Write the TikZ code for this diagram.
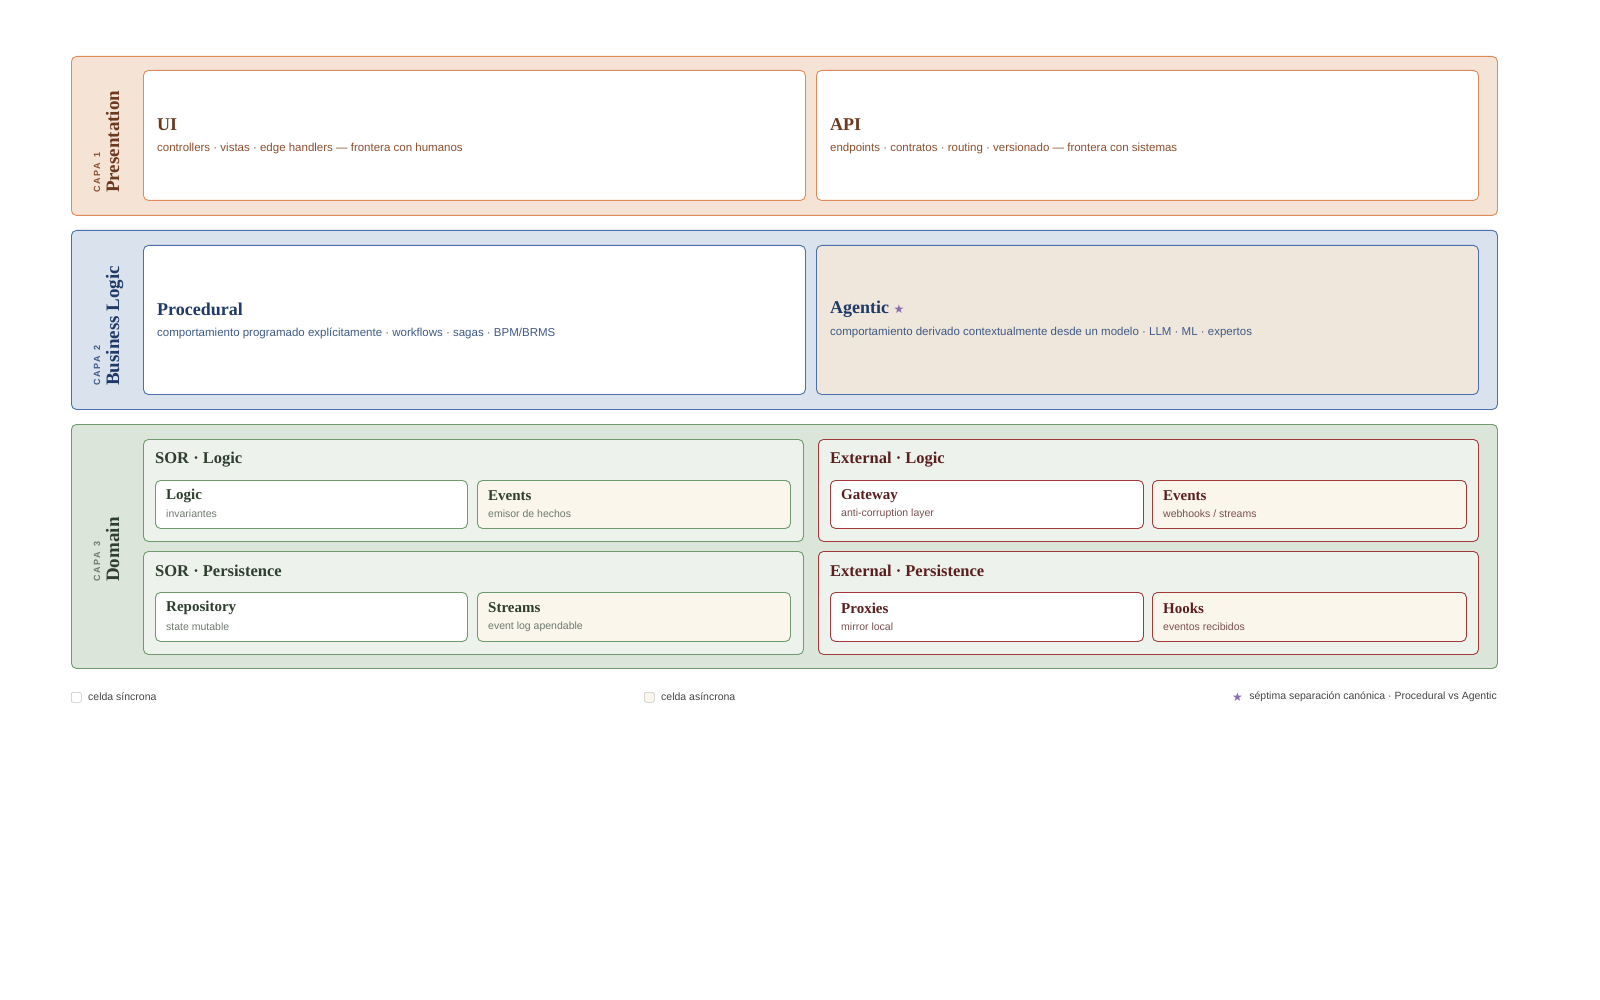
\documentclass[tikz,border=0pt]{standalone}
\usepackage{fontspec}
\setmainfont{Liberation Serif}
\setsansfont{Liberation Sans}
\newfontfamily\symfont{DejaVu Sans}
\begin{document}
\begin{tikzpicture}[x=1pt,y=-1pt,
  box/.style={rounded corners=5pt, line width=0.9pt, anchor=north west, inner sep=0pt},
  ttl/.style={anchor=west, inner sep=0pt, font=\fontsize{18}{20}\selectfont\bfseries},
  sub/.style={anchor=west, inner sep=0pt, font=\sffamily\fontsize{11.5}{13}\selectfont},
  ctl/.style={anchor=west, inner sep=0pt, font=\fontsize{15}{17}\selectfont\bfseries},
  csub/.style={anchor=west, inner sep=0pt, font=\sffamily\fontsize{10.5}{12}\selectfont},
  ptl/.style={anchor=west, inner sep=0pt, font=\fontsize{16.5}{18}\selectfont\bfseries},
  capa/.style={rotate=90, anchor=base west, inner sep=0pt, font=\sffamily\bfseries\fontsize{9}{10}\selectfont},
  lname/.style={rotate=90, anchor=base west, inner sep=0pt, font=\fontsize{19}{20}\selectfont\bfseries}]
\definecolor{pfill}{HTML}{F5E3D6}\definecolor{pline}{HTML}{E0895C}\definecolor{ptext}{HTML}{6B3A1F}\definecolor{psub}{HTML}{8A5030}
\definecolor{bfill}{HTML}{DAE2EE}\definecolor{bline}{HTML}{4A6FAA}\definecolor{btext}{HTML}{1F3A66}\definecolor{bsub}{HTML}{3F5A85}
\definecolor{agfill}{HTML}{EFE7DB}
\definecolor{gfill}{HTML}{DCE5DA}\definecolor{gline}{HTML}{6E9A6E}\definecolor{gpanel}{HTML}{EEF2EC}\definecolor{gtext}{HTML}{2F3F2F}\definecolor{gsub}{HTML}{6F7A6F}
\definecolor{rline}{HTML}{A33A3A}\definecolor{rtext}{HTML}{5A2020}\definecolor{rsub}{HTML}{7A5050}
\definecolor{cream}{HTML}{FAF6EC}\definecolor{star}{HTML}{8A6AB0}\definecolor{leg}{HTML}{444444}
\useasboundingbox (0,0) rectangle (1600,1000);
% Layer 1
\node[box, draw=pline, fill=pfill, minimum width=1426, minimum height=159] (L1) at (71,56) {};
\node[capa, text=psub] (L1c) at (100,193) {C\,A\,P\,A\ \ 1};
\node[lname, text=ptext] (L1n) at (119,193) {Presentation};
\node[box, draw=pline, fill=white, minimum width=662, minimum height=130] (ui) at (143,70) {};
\node[ttl, text=ptext] (uit) at (157,125) {UI};
\node[sub, text=psub] (uis) at (157,149) {controllers · vistas · edge handlers — frontera con humanos};
\node[box, draw=pline, fill=white, minimum width=662, minimum height=130] (api) at (816,70) {};
\node[ttl, text=ptext] (apit) at (830,125) {API};
\node[sub, text=psub] (apis) at (830,149) {endpoints · contratos · routing · versionado — frontera con sistemas};
% Layer 2
\node[box, draw=bline, fill=bfill, minimum width=1426, minimum height=179] (L2) at (71,230) {};
\node[capa, text=bsub] (L2c) at (100,386) {C\,A\,P\,A\ \ 2};
\node[lname, text=btext] (L2n) at (119,386) {Business Logic};
\node[box, draw=bline, fill=white, minimum width=662, minimum height=149] (pro) at (143,245) {};
\node[ttl, text=btext] (prot) at (157,309) {Procedural};
\node[sub, text=bsub] (pros) at (157,333) {comportamiento programado explícitamente · workflows · sagas · BPM/BRMS};
\node[box, draw=bline, fill=agfill, minimum width=662, minimum height=149] (ag) at (816,245) {};
\node[ttl, text=btext] (agt) at (830,309) {Agentic {\symfont\fontsize{12}{12}\selectfont\color{star}★}};
\node[sub, text=bsub] (ags) at (830,333) {comportamiento derivado contextualmente desde un modelo · LLM · ML · expertos};
% Layer 3
\node[box, draw=gline, fill=gfill, minimum width=1426, minimum height=244] (L3) at (71,424) {};
\node[capa, text=gsub] (L3c) at (100,582) {C\,A\,P\,A\ \ 3};
\node[lname, text=gtext] (L3n) at (119,582) {Domain};
% SOR panels
\node[box, draw=gline, fill=gpanel, minimum width=660, minimum height=102] (sl) at (143,439) {};
\node[ptl, text=gtext] (slt) at (155,460) {SOR · Logic};
\node[box, draw=gline, fill=white, minimum width=312, minimum height=48] (c1) at (155,480) {};
\node[ctl, text=gtext] (c1t) at (166,496) {Logic};
\node[csub, text=gsub] (c1s) at (166,514) {invariantes};
\node[box, draw=gline, fill=cream, minimum width=313, minimum height=48] (c2) at (477,480) {};
\node[ctl, text=gtext] (c2t) at (488,496) {Events};
\node[csub, text=gsub] (c2s) at (488,514) {emisor de hechos};
\node[box, draw=gline, fill=gpanel, minimum width=660, minimum height=103] (sp) at (143,551) {};
\node[ptl, text=gtext] (spt) at (155,571) {SOR · Persistence};
\node[box, draw=gline, fill=white, minimum width=312, minimum height=49] (c3) at (155,592) {};
\node[ctl, text=gtext] (c3t) at (166,608) {Repository};
\node[csub, text=gsub] (c3s) at (166,627) {state mutable};
\node[box, draw=gline, fill=cream, minimum width=313, minimum height=49] (c4) at (477,592) {};
\node[ctl, text=gtext] (c4t) at (488,608) {Streams};
\node[csub, text=gsub] (c4s) at (488,627) {event log apendable};
% External panels
\node[box, draw=rline, fill=gpanel, minimum width=660, minimum height=102] (el) at (818,439) {};
\node[ptl, text=rtext] (elt) at (830,460) {External · Logic};
\node[box, draw=rline, fill=white, minimum width=313, minimum height=48] (c5) at (830,480) {};
\node[ctl, text=rtext] (c5t) at (841,496) {Gateway};
\node[csub, text=rsub] (c5s) at (841,514) {anti-corruption layer};
\node[box, draw=rline, fill=cream, minimum width=314, minimum height=48] (c6) at (1152,480) {};
\node[ctl, text=rtext] (c6t) at (1163,496) {Events};
\node[csub, text=rsub] (c6s) at (1163,514) {webhooks / streams};
\node[box, draw=rline, fill=gpanel, minimum width=660, minimum height=103] (ep) at (818,551) {};
\node[ptl, text=rtext] (ept) at (830,571) {External · Persistence};
\node[box, draw=rline, fill=white, minimum width=313, minimum height=49] (c7) at (830,592) {};
\node[ctl, text=rtext] (c7t) at (841,608) {Proxies};
\node[csub, text=rsub] (c7s) at (841,627) {mirror local};
\node[box, draw=rline, fill=cream, minimum width=314, minimum height=49] (c8) at (1152,592) {};
\node[ctl, text=rtext] (c8t) at (1163,608) {Hooks};
\node[csub, text=rsub] (c8s) at (1163,627) {eventos recibidos};
% Legend
\node[box, draw=gray!45, fill=white, rounded corners=2pt, line width=0.6pt, minimum width=10, minimum height=10] (lg1) at (71,692) {};
\node[csub, text=leg] (lg1t) at (88,697) {celda síncrona};
\node[box, draw=gray!45, fill=cream, rounded corners=2pt, line width=0.6pt, minimum width=10, minimum height=10] (lg2) at (644,692) {};
\node[csub, text=leg] (lg2t) at (661,697) {celda asíncrona};
\node[anchor=east, inner sep=0pt, font=\sffamily\fontsize{10.5}{12}\selectfont, text=leg] (lg3t) at (1497,697) {séptima separación canónica · Procedural vs Agentic};
\node[anchor=east, inner sep=0pt, font=\symfont\fontsize{12}{12}\selectfont, text=star] (lg3) at ([xshift=-6pt]lg3t.west) {★};
\end{tikzpicture}
\end{document}
